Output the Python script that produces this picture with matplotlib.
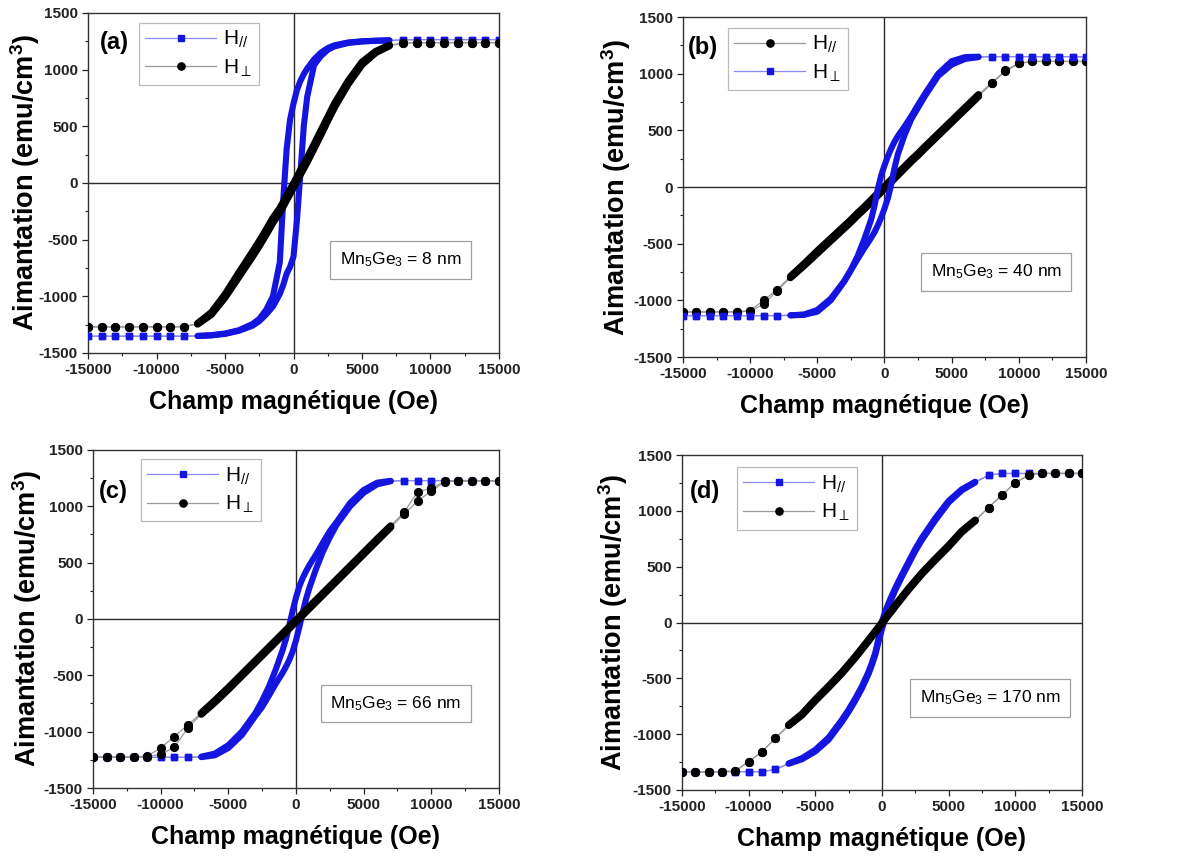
import matplotlib
matplotlib.use('Agg')
import numpy as np
import matplotlib.pyplot as plt
from matplotlib.lines import Line2D
from matplotlib.ticker import MultipleLocator

plt.rcParams['font.family'] = ['Liberation Sans', 'DejaVu Sans']
plt.rcParams['mathtext.fontset'] = 'custom'
plt.rcParams['mathtext.rm'] = 'Liberation Sans'
plt.rcParams['mathtext.it'] = 'Liberation Sans:italic'
plt.rcParams['mathtext.bf'] = 'Liberation Sans:bold'
plt.rcParams['axes.unicode_minus'] = False

# ---------------- data ----------------
# field values (Oe), swept from +15000 to -15000; indices 0-7 and 33-40 are sparse points
H_FIELD = [15000, 14000, 13000, 12000, 11000, 10000, 9000, 8000,
           7000, 6000, 5000, 4000, 3000, 2500, 2000, 1500, 1000, 750, 500, 250, 0,
           -250, -500, -750, -1000, -1500, -2000, -2500, -3000, -4000, -5000, -6000, -7000,
           -8000, -9000, -10000, -11000, -12000, -13000, -14000, -15000]

# panel (a) Mn5Ge3 = 8 nm
a_par_down = [1265, 1265, 1265, 1265, 1265, 1265, 1265, 1262,
              1258, 1255, 1250, 1240, 1215, 1190, 1150, 1090, 1010, 960, 900, 820, 700,
              560, 300, -150, -700, -1000, -1120, -1200, -1245, -1300, -1328, -1343, -1350,
              -1352, -1352, -1352, -1352, -1352, -1352, -1352, -1352]
a_par_up = [1265, 1265, 1265, 1265, 1265, 1265, 1265, 1262,
            1258, 1254, 1248, 1235, 1205, 1175, 1120, 1040, 760, 500, 80, -330, -650,
            -740, -800, -900, -980, -1090, -1160, -1220, -1260, -1305, -1332, -1345, -1350,
            -1352, -1352, -1352, -1352, -1352, -1352, -1352, -1352]
a_perp_down = [1238, 1238, 1238, 1238, 1238, 1238, 1238, 1235,
               1215, 1160, 1065, 900, 700, 580, 460, 340, 220, 165, 110, 50, -5,
               -60, -115, -170, -225, -310, -415, -515, -610, -795, -985, -1145, -1240,
               -1268, -1270, -1270, -1270, -1270, -1270, -1270, -1270]
a_perp_up = [1238, 1238, 1238, 1238, 1238, 1238, 1238, 1235,
             1210, 1150, 1045, 875, 670, 550, 425, 305, 185, 130, 75, 15, -40,
             -95, -150, -205, -260, -350, -455, -555, -650, -830, -1010, -1160, -1245,
             -1268, -1270, -1270, -1270, -1270, -1270, -1270, -1270]

# panel (b) Mn5Ge3 = 40 nm
b_par_down = [1108, 1108, 1108, 1108, 1108, 1093, 1029, 922,
              815, 700, 585, 470, 355, 295, 240, 180, 125, 95, 65, 35, 5,
              -25, -55, -85, -115, -175, -230, -290, -345, -455, -565, -680, -790,
              -905, -1000, -1090, -1102, -1102, -1102, -1102, -1102]
b_par_up = [1108, 1108, 1108, 1108, 1108, 1090, 1020, 915,
            800, 685, 570, 455, 340, 280, 225, 165, 105, 75, 45, 15, -15,
            -45, -75, -105, -135, -195, -250, -310, -365, -475, -585, -695, -800,
            -915, -1035, -1095, -1102, -1102, -1102, -1102, -1102]
b_perp_down = [1150, 1150, 1150, 1150, 1150, 1150, 1150, 1150,
               1150, 1146, 1110, 1000, 820, 725, 625, 535, 450, 400, 340, 270, 190,
               100, -20, -170, -290, -460, -610, -730, -830, -985, -1085, -1125, -1132,
               -1135, -1135, -1135, -1135, -1135, -1135, -1135, -1135]
b_perp_up = [1150, 1150, 1150, 1150, 1150, 1150, 1150, 1150,
             1146, 1130, 1080, 980, 800, 700, 600, 460, 290, 170, 20, -100, -190,
             -270, -340, -400, -450, -540, -635, -735, -835, -1000, -1100, -1128, -1132,
             -1135, -1135, -1135, -1135, -1135, -1135, -1135, -1135]

# panel (c) Mn5Ge3 = 66 nm
c_par_down = [1228, 1228, 1228, 1228, 1228, 1228, 1228, 1228,
              1226, 1210, 1145, 1030, 860, 780, 680, 575, 480, 425, 365, 290, 190,
              70, -60, -180, -280, -450, -600, -725, -835, -1000, -1120, -1195, -1222,
              -1228, -1228, -1228, -1228, -1228, -1228, -1228, -1228]
c_par_up = [1228, 1228, 1228, 1228, 1228, 1228, 1228, 1228,
            1222, 1195, 1120, 1000, 835, 725, 600, 450, 280, 180, 60, -70, -190,
            -290, -365, -425, -480, -575, -680, -780, -860, -1030, -1145, -1210, -1226,
            -1228, -1228, -1228, -1228, -1228, -1228, -1228, -1228]
c_perp_down = [1225, 1225, 1225, 1225, 1222, 1160, 1130, 950,
               826, 710, 590, 470, 350, 290, 230, 170, 110, 80, 50, 20, -10,
               -40, -70, -100, -130, -190, -250, -310, -370, -490, -610, -725, -835,
               -940, -1043, -1146, -1215, -1225, -1225, -1225, -1225]
c_perp_up = [1225, 1225, 1225, 1225, 1215, 1137, 1048, 932,
             815, 695, 575, 455, 335, 275, 215, 155, 95, 65, 35, 5, -25,
             -55, -85, -115, -145, -205, -265, -325, -385, -505, -625, -740, -845,
             -967, -1140, -1200, -1225, -1225, -1225, -1225, -1225]

# panel (d) Mn5Ge3 = 170 nm
d_par_down = [1336, 1336, 1336, 1336, 1336, 1336, 1336, 1320,
              1262, 1195, 1090, 935, 760, 660, 545, 430, 310, 245, 175, 100, 10,
              -140, -270, -360, -440, -570, -680, -780, -870, -1030, -1140, -1215, -1262,
              -1316, -1336, -1336, -1336, -1336, -1336, -1336, -1336]
d_par_up = [1336, 1336, 1336, 1336, 1336, 1336, 1336, 1320,
            1255, 1185, 1075, 915, 740, 640, 525, 410, 290, 220, 140, 40, -60,
            -170, -290, -380, -460, -590, -700, -800, -890, -1050, -1155, -1225, -1265,
            -1316, -1336, -1336, -1336, -1336, -1336, -1336, -1336]
d_perp_down = [1336, 1336, 1336, 1336, 1321, 1252, 1142, 1030,
               918, 820, 690, 570, 445, 375, 305, 230, 155, 115, 78, 40, 0,
               -40, -78, -115, -155, -230, -305, -375, -445, -570, -690, -820, -918,
               -1037, -1157, -1246, -1330, -1336, -1336, -1336, -1336]
d_perp_up = [1336, 1336, 1336, 1336, 1321, 1252, 1142, 1030,
             912, 812, 680, 560, 435, 365, 295, 220, 145, 105, 68, 30, -10,
             -50, -88, -125, -165, -240, -315, -385, -455, -580, -700, -828, -922,
             -1037, -1157, -1246, -1330, -1336, -1336, -1336, -1336]

PANEL_LABELS = ['(a)', '(b)', '(c)', '(d)']
THICKNESS = ['8 nm', '40 nm', '66 nm', '170 nm']
LEG_PAR = r'H$_{\mathit{//}}$'
LEG_PERP = r'H$_{\perp}$'

# ---------------- styles ----------------
BLUE = '#1515e0'
BLUE_LINE = '#8a8aef'
BLACK = '#000000'
GRAY_LINE = '#9a9a9a'

STY = {
    'blue': dict(color=BLUE, lcolor=BLUE_LINE, marker='s', ms=4.6, lw=4.4),
    'black': dict(color=BLACK, lcolor=GRAY_LINE, marker='o', ms=5.6, lw=5.2),
}

panels = [
    dict(rect=[0.0744, 0.591, 0.3474, 0.394],
         series=[(LEG_PAR, a_par_down, a_par_up, 'blue'), (LEG_PERP, a_perp_down, a_perp_up, 'black')],
         leg=(0.124, 0.971), lab=(0.063, 0.912), box=(0.76, 0.274), ylab=-0.153),
    dict(rect=[0.5773, 0.5863, 0.3407, 0.394],
         series=[(LEG_PAR, b_par_down, b_par_up, 'black'), (LEG_PERP, b_perp_down, b_perp_up, 'blue')],
         leg=(0.112, 0.968), lab=(0.05, 0.91), box=(0.777, 0.25), ylab=-0.167),
    dict(rect=[0.0786, 0.0869, 0.3432, 0.3917],
         series=[(LEG_PAR, c_par_down, c_par_up, 'blue'), (LEG_PERP, c_perp_down, c_perp_up, 'black')],
         leg=(0.118, 0.973), lab=(0.05, 0.876), box=(0.746, 0.25), ylab=-0.162),
    dict(rect=[0.5765, 0.0846, 0.338, 0.388],
         series=[(LEG_PAR, d_par_down, d_par_up, 'blue'), (LEG_PERP, d_perp_down, d_perp_up, 'black')],
         leg=(0.1375, 0.964), lab=(0.058, 0.89), box=(0.77, 0.275), ylab=-0.172),
]

fig = plt.figure(figsize=(11.83, 8.63), dpi=100)
H = np.array(H_FIELD, dtype=float)

for i, p in enumerate(panels):
    ax = fig.add_axes(p['rect'])
    ax.set_xlim(-15000, 15000)
    ax.set_ylim(-1500, 1500)
    ax.axhline(0, color='#2a2a2a', lw=1.0, zorder=1)
    ax.axvline(0, color='#2a2a2a', lw=1.0, zorder=1)
    handles = []
    for name, down, up, key in p['series']:
        s = STY[key]
        d = np.array(down, dtype=float)
        u = np.array(up, dtype=float)
        for arr in (d, u):
            ax.plot(H, arr, color=s['lcolor'], lw=0.9, zorder=2)
            ax.plot(H[8:33], arr[8:33], color=s['color'], lw=s['lw'],
                    solid_capstyle='round', solid_joinstyle='round', zorder=3)
            ax.plot(H[:8], arr[:8], ls='none', marker=s['marker'], color=s['color'],
                    ms=s['ms'], zorder=4)
            ax.plot(H[33:], arr[33:], ls='none', marker=s['marker'], color=s['color'],
                    ms=s['ms'], zorder=4)
        handles.append(Line2D([], [], color=s['lcolor'], lw=0.9, marker=s['marker'],
                              mfc=s['color'], mec=s['color'], ms=s['ms'] - 0.4, label=name))
    leg = ax.legend(handles=handles, loc='upper left', bbox_to_anchor=p['leg'],
                    borderaxespad=0, fontsize=15, frameon=True, fancybox=False,
                    edgecolor='#aaaaaa', handlelength=3.4, handletextpad=0.35,
                    labelspacing=0.35, borderpad=0.3)
    leg.get_frame().set_linewidth(0.9)

    ax.text(p['lab'][0], p['lab'][1], PANEL_LABELS[i], transform=ax.transAxes,
            ha='center', va='center', fontsize=17, fontweight='bold')
    ax.text(p['box'][0], p['box'][1],
            r'Mn$_{\mathrm{5}}$Ge$_{\mathrm{3}}$ = ' + THICKNESS[i],
            transform=ax.transAxes, ha='center', va='center', fontsize=12.5,
            bbox=dict(boxstyle='square,pad=0.55', fc='white', ec='#a0a0a0', lw=0.9),
            zorder=6)

    ax.xaxis.set_major_locator(MultipleLocator(5000))
    ax.xaxis.set_minor_locator(MultipleLocator(2500))
    ax.yaxis.set_major_locator(MultipleLocator(500))
    ax.yaxis.set_minor_locator(MultipleLocator(250))
    ax.tick_params(which='both', direction='out', top=False, right=False,
                   colors='#222222', labelsize=11)
    ax.tick_params(which='major', length=4, width=0.9)
    ax.tick_params(which='minor', length=2.5, width=0.8)
    for lbl in ax.get_xticklabels() + ax.get_yticklabels():
        lbl.set_fontweight('bold')
    for sp in ax.spines.values():
        sp.set_color('#333333')
        sp.set_linewidth(1.0)
    ax.set_xlabel('Champ magnétique (Oe)', fontsize=18, fontweight='bold', labelpad=9)
    ax.set_ylabel(r'Aimantation (emu/cm$^{\mathbf{3}}$)', fontsize=19.5,
                  fontweight='bold', va='center')
    ax.yaxis.set_label_coords(p['ylab'], 0.5)

fig.savefig('out.png', dpi=100)
